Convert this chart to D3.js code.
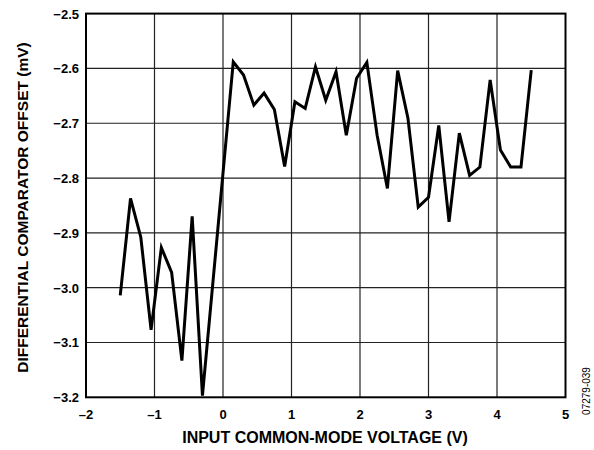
<!DOCTYPE html>
<html>
<head>
<meta charset="utf-8">
<script src="https://cdn.jsdelivr.net/npm/d3@7"></script>
<style>
  body { margin: 0; background: #fff; }
  text { font-family: "Liberation Sans", Arial, sans-serif; }
</style>
</head>
<body>
<div id="chart"></div>
<script>
// input common-mode voltage (V)
var vcm = [-1.5, -1.35, -1.2, -1.05, -0.9, -0.75, -0.6, -0.45, -0.3, -0.15, 0,
  0.15, 0.3, 0.45, 0.6, 0.75, 0.9, 1.05, 1.2, 1.35, 1.5, 1.65, 1.8, 1.95, 2.1,
  2.25, 2.4, 2.55, 2.7, 2.85, 3.0, 3.15, 3.3, 3.45, 3.6, 3.75, 3.9, 4.05, 4.2,
  4.35, 4.5];
// differential comparator offset (mV)
var offset = [-3.014, -2.837, -2.908, -3.077, -2.927, -2.972, -3.133, -2.870, -3.197, -2.994, -2.791,
  -2.588, -2.612, -2.667, -2.645, -2.675, -2.779, -2.661, -2.673, -2.597, -2.658,
  -2.606, -2.722, -2.618, -2.589, -2.722, -2.819, -2.604, -2.691, -2.853, -2.835,
  -2.704, -2.880, -2.718, -2.795, -2.780, -2.621, -2.749, -2.780, -2.780, -2.603];
var xTicks = [-2, -1, 0, 1, 2, 3, 4, 5];
var yTicks = [-3.2, -3.1, -3.0, -2.9, -2.8, -2.7, -2.6, -2.5];

var width = 594, height = 450;
var plotL = 86, plotR = 565.5, plotT = 13.6, plotB = 397.3;

var x = d3.scaleLinear().domain([-2, 5]).range([plotL, plotR]);
var y = d3.scaleLinear().domain([-3.2, -2.5]).range([plotB, plotT]);

var svg = d3.select("#chart").append("svg")
  .attr("width", width)
  .attr("height", height);

// grid
svg.append("g").selectAll("line")
  .data(xTicks.slice(1, -1))
  .enter().append("line")
  .attr("x1", function(d) { return x(d); })
  .attr("x2", function(d) { return x(d); })
  .attr("y1", plotT).attr("y2", plotB)
  .attr("stroke", "#222").attr("stroke-width", 1.2);

svg.append("g").selectAll("line")
  .data(yTicks.slice(1, -1))
  .enter().append("line")
  .attr("y1", function(d) { return y(d); })
  .attr("y2", function(d) { return y(d); })
  .attr("x1", plotL).attr("x2", plotR)
  .attr("stroke", "#222").attr("stroke-width", 1.2);

// frame
svg.append("rect")
  .attr("x", plotL).attr("y", plotT)
  .attr("width", plotR - plotL).attr("height", plotB - plotT)
  .attr("fill", "none").attr("stroke", "#000").attr("stroke-width", 2);

function fmt(d) { return d3.format(".1f")(d).replace("-", "\u2013"); }

// y tick labels
svg.append("g").selectAll("text")
  .data(yTicks)
  .enter().append("text")
  .attr("x", plotL - 7)
  .attr("y", function(d) { return y(d); })
  .attr("dy", "0.38em")
  .attr("text-anchor", "end")
  .attr("font-size", 13).attr("font-weight", "bold")
  .text(fmt);

// x tick labels
svg.append("g").selectAll("text")
  .data(xTicks)
  .enter().append("text")
  .attr("x", function(d) { return x(d); })
  .attr("y", plotB + 22)
  .attr("text-anchor", "middle")
  .attr("font-size", 13).attr("font-weight", "bold")
  .text(function(d) { return String(d).replace("-", "\u2013"); });

// data line
var line = d3.line()
  .x(function(d, i) { return x(vcm[i]); })
  .y(function(d) { return y(d); });

svg.append("path")
  .datum(offset)
  .attr("d", line)
  .attr("fill", "none")
  .attr("stroke", "#000")
  .attr("stroke-width", 3)
  .attr("stroke-linejoin", "miter");

// axis titles
svg.append("text")
  .attr("x", 325)
  .attr("y", 443)
  .attr("text-anchor", "middle")
  .attr("font-size", 16).attr("font-weight", "bold")
  .text("INPUT COMMON-MODE VOLTAGE (V)");

svg.append("text")
  .attr("transform", "translate(27.5,207.5) rotate(-90)")
  .attr("text-anchor", "middle")
  .attr("font-size", 15.5).attr("font-weight", "bold")
  .text("DIFFERENTIAL COMPARATOR OFFSET (mV)");

svg.append("text")
  .attr("transform", "translate(590,391) rotate(-90)")
  .attr("text-anchor", "middle")
  .attr("font-size", 10)
  .text("07279-039");
</script>
</body>
</html>
